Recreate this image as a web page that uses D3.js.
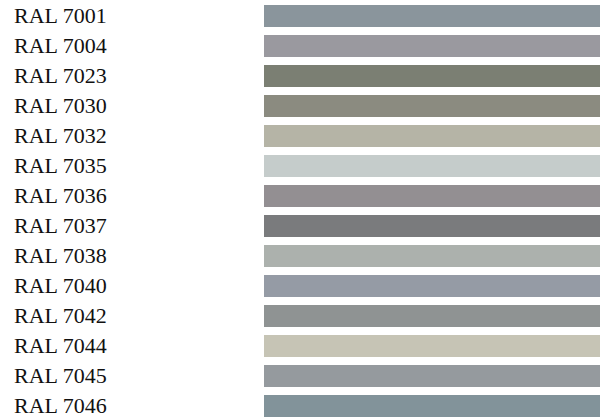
<!DOCTYPE html>
<html>
<head>
<meta charset="utf-8">
<script src="https://cdn.jsdelivr.net/npm/d3@7"></script>
<style>
  body { margin: 0; background: #fff; }
  text { font-family: "Liberation Serif", "DejaVu Serif", serif; }
</style>
</head>
<body>
<div id="chart"></div>
<script>
// RAL codes and their swatch colours
const codes = ["7001", "7004", "7023", "7030", "7032", "7035", "7036",
               "7037", "7038", "7040", "7042", "7044", "7045", "7046"];
const swatches = ["#8a959c", "#9a999f", "#7b7f73", "#8b8b80", "#b5b4a6", "#c5cccb", "#938f92",
                  "#7a7b7d", "#acb1ad", "#959ba5", "#8f9393", "#c6c4b5", "#959a9e", "#82939a"];
const values = [1, 1, 1, 1, 1, 1, 1, 1, 1, 1, 1, 1, 1, 1];

const width = 600, height = 419;
const margin = { top: 5, right: 0, bottom: 2, left: 264 };

const data = codes.map((c, i) => ({ label: "RAL " + c, color: swatches[i], value: values[i] }));

const svg = d3.select("#chart")
  .append("svg")
  .attr("width", width)
  .attr("height", height);

// rows are 30px apart, bars 22px tall
const yScale = d3.scaleBand()
  .domain(data.map(d => d.label))
  .range([margin.top, height - margin.bottom])
  .paddingInner(8 / 30)
  .paddingOuter(0);

const xScale = d3.scaleLinear()
  .domain([0, 1])
  .range([margin.left, width - margin.right]);

svg.selectAll("rect")
  .data(data)
  .enter()
  .append("rect")
  .attr("x", xScale(0))
  .attr("y", d => yScale(d.label))
  .attr("width", d => xScale(d.value) - xScale(0))
  .attr("height", yScale.bandwidth())
  .attr("fill", d => d.color);

// labels on the left
svg.selectAll(".label")
  .data(data)
  .enter()
  .append("text")
  .attr("class", "label")
  .attr("x", 14)
  .attr("y", d => yScale(d.label) + yScale.bandwidth() / 2 + 7)
  .attr("font-size", "22px")
  .attr("fill", "#111")
  .text(d => d.label);
</script>
</body>
</html>
